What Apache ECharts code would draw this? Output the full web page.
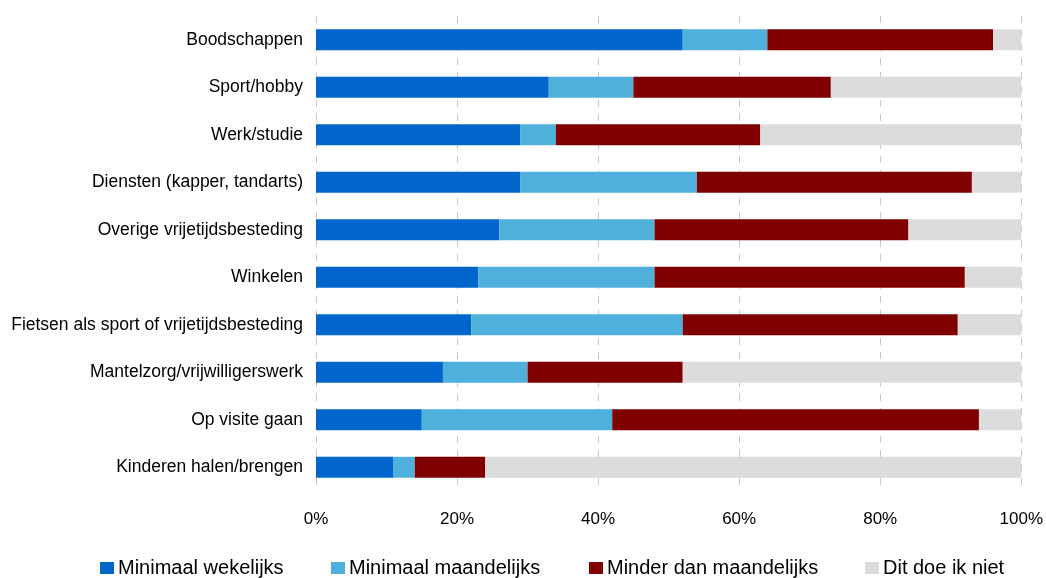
<!DOCTYPE html>
<html>
<head>
<meta charset="utf-8">
<script src="https://cdn.jsdelivr.net/npm/echarts@6/dist/echarts.min.js"></script>
<style>
  html, body { margin: 0; padding: 0; background: #fff; }
  #chart { width: 1046px; height: 578px; }
</style>
</head>
<body>
<div id="chart"></div>
<script>
// Activiteiten (van boven naar beneden)
const categories = [
  'Boodschappen',
  'Sport/hobby',
  'Werk/studie',
  'Diensten (kapper, tandarts)',
  'Overige vrijetijdsbesteding',
  'Winkelen',
  'Fietsen als sport of vrijetijdsbesteding',
  'Mantelzorg/vrijwilligerswerk',
  'Op visite gaan',
  'Kinderen halen/brengen'
];

const seriesNames = ['Minimaal wekelijks', 'Minimaal maandelijks', 'Minder dan maandelijks', 'Dit doe ik niet'];

// percentages per categorie
const wekelijks   = [52, 33, 29, 29, 26, 23, 22, 18, 15, 11];
const maandelijks = [12, 12,  5, 25, 22, 25, 30, 12, 27,  3];
const minderDan   = [32, 28, 29, 39, 36, 44, 39, 22, 52, 10];
const nietGedaan  = [ 4, 27, 37,  7, 16,  8,  9, 48,  6, 76];

const xTicks = [0, 20, 40, 60, 80, 100];

const colors = ['#0066cc', '#50b0dc', '#800000', '#dcdcdc'];
const values = [wekelijks, maandelijks, minderDan, nietGedaan];
const legendLeft = [100, 331, 589, 865];

const chart = echarts.init(document.getElementById('chart'), null, { renderer: 'canvas' });

const font = 'Liberation Sans, Arial, sans-serif';

chart.setOption({
  animation: false,
  backgroundColor: '#fff',
  textStyle: { fontFamily: font },
  grid: { left: 316, right: 23, top: 16, bottom: 87, containLabel: false },
  legend: seriesNames.map((name, i) => ({
    data: [name],
    left: legendLeft[i],
    bottom: 0,
    padding: 0,
    itemWidth: 14,
    itemHeight: 12,
    itemGap: 0,
    icon: 'rect',
    textStyle: { fontSize: 20, color: '#000', fontFamily: font, padding: [0, 0, 0, -1] }
  })),
  xAxis: {
    type: 'value',
    min: 0,
    max: 100,
    interval: 20,
    axisLine: { show: false },
    axisTick: { show: false },
    axisLabel: {
      fontSize: 17,
      color: '#000',
      margin: 20,
      formatter: v => (xTicks.includes(v) ? v + '%' : '')
    },
    splitLine: {
      show: true,
      lineStyle: { color: '#c8c8c8', type: [7, 7], width: 1 }
    }
  },
  yAxis: {
    type: 'category',
    data: categories,
    inverse: true,
    axisLine: { show: false },
    axisTick: { show: false },
    axisLabel: { fontSize: 17.5, color: '#000', margin: 13 }
  },
  series: seriesNames.map((name, i) => ({
    name,
    type: 'bar',
    stack: 'totaal',
    barCategoryGap: '56%',
    itemStyle: { color: colors[i] },
    data: values[i]
  }))
});
</script>
</body>
</html>
